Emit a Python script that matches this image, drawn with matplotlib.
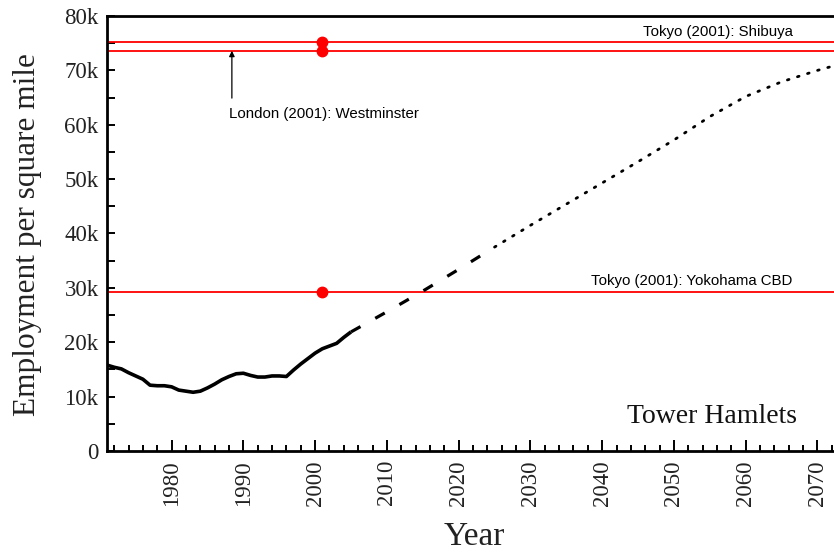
import numpy as np
import matplotlib
matplotlib.use("Agg")
import matplotlib.pyplot as plt
from matplotlib.ticker import MultipleLocator, FuncFormatter

# observed employment density, Tower Hamlets (thousands per sq mile)
obs_years = [1971, 1972, 1973, 1974, 1975, 1976, 1977, 1978, 1979, 1980,
             1981, 1982, 1983, 1984, 1985, 1986, 1987, 1988, 1989, 1990,
             1991, 1992, 1993, 1994, 1995, 1996, 1997, 1998, 1999, 2000,
             2001, 2002, 2003, 2004, 2005]
obs_vals = [15.8, 15.4, 15.1, 14.4, 13.8, 13.2, 12.1, 12.0, 12.0, 11.8,
            11.2, 11.0, 10.8, 11.0, 11.6, 12.3, 13.1, 13.7, 14.2, 14.3,
            13.9, 13.6, 13.6, 13.8, 13.8, 13.7, 14.9, 16.0, 17.0, 18.0,
            18.8, 19.3, 19.8, 20.9, 21.9]

# near-term projection (dashed)
near_years = [2005, 2010, 2015, 2020, 2025]
near_vals = [21.9, 25.6, 29.4, 33.4, 37.5]

# long-term projection (dotted)
far_years = [2025, 2030, 2035, 2040, 2045, 2050, 2055, 2060, 2065, 2070, 2073]
far_vals = [37.5, 41.5, 45.4, 49.3, 53.2, 57.2, 61.5, 65.2, 67.9, 70.0, 71.1]

# 2001 benchmark densities
bench_names = ["Tokyo (2001): Shibuya", "London (2001): Westminster",
               "Tokyo (2001): Yokohama CBD"]
bench_vals = [75.2, 73.6, 29.2]
bench_year = 2001

K = 1000.0

fig = plt.figure(figsize=(8.34, 5.52), dpi=100)
ax = fig.add_axes([0.1283, 0.183, 0.8717, 0.788])

for v in bench_vals:
    ax.axhline(v * K, color="red", lw=1.3, zorder=2)
    ax.plot([bench_year], [v * K], "o", color="red", ms=7.5, zorder=3)

ax.plot(obs_years, np.array(obs_vals) * K, color="black", lw=2.6,
        solid_capstyle="butt", zorder=4)
ax.plot(near_years, np.array(near_vals) * K, color="black", lw=2.3,
        dashes=(3.4, 5.3), zorder=4)
ax.plot(far_years, np.array(far_vals) * K, color="black", lw=2.0,
        linestyle=(0, (0.6, 3.2)), dash_capstyle="round", zorder=4)

sans = ["Liberation Sans", "DejaVu Sans"]
serif = ["Liberation Serif", "DejaVu Serif"]

ax.text(2066.5, 77.1 * K, bench_names[0], ha="right", va="center",
        fontsize=10.8, family=sans)
ax.text(2066.5, 31.2 * K, bench_names[2], ha="right", va="center",
        fontsize=10.8, family=sans)
ax.text(1988.0, 62.0 * K, bench_names[1], ha="left", va="center",
        fontsize=10.8, family=sans)
# arrow from the Westminster label up to its line
ax.annotate("", xy=(1988.4, bench_vals[1] * K), xytext=(1988.4, 64.9 * K),
            arrowprops=dict(arrowstyle="-|>", color="black", lw=0.9,
                            mutation_scale=8, shrinkA=0, shrinkB=0))
ax.text(2067.2, 6.3 * K, "Tower Hamlets", ha="right", va="center",
        fontsize=20, family=serif, color="#111111")

ax.set_xlim(1971, 2072.3)
ax.set_ylim(0, 80 * K)

ax.xaxis.set_major_locator(MultipleLocator(10))
ax.xaxis.set_minor_locator(MultipleLocator(2))
ax.yaxis.set_major_locator(MultipleLocator(10 * K))
ax.yaxis.set_minor_locator(MultipleLocator(5 * K))
ax.yaxis.set_major_formatter(
    FuncFormatter(lambda v, p: "0" if v == 0 else f"{int(v / K)}k"))
ax.set_xticks(range(1980, 2071, 10))

ax.tick_params(axis="both", which="both", direction="in", width=1.4,
               color="black")
ax.tick_params(axis="x", which="major", length=8)
ax.tick_params(axis="x", which="minor", length=4)
ax.tick_params(axis="y", which="both", length=6)
ax.tick_params(axis="x", labelrotation=90, pad=6.5)
ax.tick_params(axis="y", pad=6)

for lab in ax.get_xticklabels() + ax.get_yticklabels():
    lab.set_family(serif)
    lab.set_fontsize(16.5)
    lab.set_color("#222222")

ax.spines["right"].set_visible(False)
for s in ("left", "bottom", "top"):
    ax.spines[s].set_linewidth(2.0)

ax.set_xlabel("Year", fontsize=24, family=serif, color="#222222")
ax.set_ylabel("Employment per square mile", fontsize=22.5, family=serif,
              color="#222222")
ax.xaxis.set_label_coords(0.505, -0.163)
ax.yaxis.set_label_coords(-0.0895, 0.497)

fig.savefig("out.png", dpi=100)
